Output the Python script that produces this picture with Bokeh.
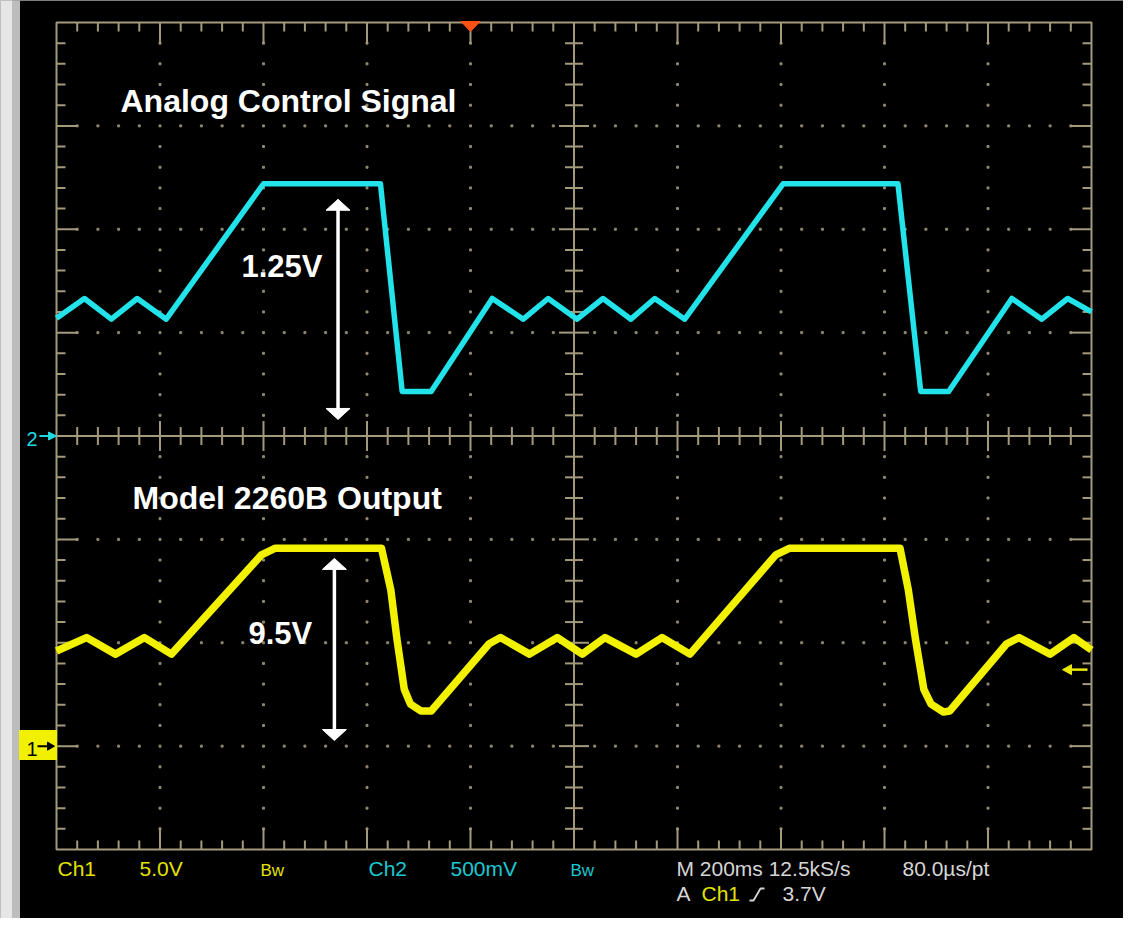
from bokeh.plotting import figure
from bokeh.models import Range1d, Label
from bokeh.embed import file_html
from bokeh.resources import INLINE

# ---------------- data ----------------
TIME_PER_DIV_MS = 200.0
CH1_VOLTS_PER_DIV = 5.0
CH2_VOLTS_PER_DIV = 0.5
CH1_GROUND_DIV = -3.0
CH2_GROUND_DIV = 0.0

# Ch2 : analog control signal (cyan)
ch2_time_ms = [0, 54, 106, 156, 212, 400, 626, 668, 724, 842, 902, 950,
               1006, 1056, 1110, 1156, 1214, 1404, 1626, 1670, 1724, 1846,
               1904, 1954, 2000]
ch2_volts = [0.57, 0.665, 0.565, 0.665, 0.565, 1.22, 1.22, 0.215, 0.215,
             0.665, 0.565, 0.665, 0.565, 0.665, 0.565, 0.665, 0.565, 1.22,
             1.22, 0.215, 0.215, 0.665, 0.565, 0.665, 0.60]

# Ch1 : Model 2260B output (yellow)
ch1_time_ms = [0, 58, 114, 170, 222, 396, 422, 628, 646, 658, 672, 684, 704,
               724, 836, 858, 914, 968, 1016, 1060, 1120, 1170, 1224, 1390,
               1416, 1630, 1646, 1660, 1676, 1690, 1714, 1726, 1836, 1860,
               1920, 1966, 2000]
ch1_volts = [4.6, 5.25, 4.45, 5.25, 4.45, 9.25, 9.57, 9.57, 7.56, 5.15, 2.75,
             2.03, 1.7, 1.7, 4.95, 5.25, 4.45, 5.25, 4.45, 5.25, 4.45, 5.25,
             4.45, 9.25, 9.57, 9.57, 7.56, 5.15, 2.75, 2.03, 1.65, 1.7, 4.95,
             5.25, 4.45, 5.25, 4.65]

# annotation arrows (time, bottom volts, top volts)
arrow_ch2 = (544, 0.08, 1.145)
arrow_ch1 = (537, 0.27, 9.08)
trigger_time_ms = 800
trigger_level_v = 3.7

titles = ["Analog Control Signal", "Model 2260B Output"]
amplitude_labels = ["1.25V", "9.5V"]
status_line1 = ["Ch1", "5.0V", "Bw", "Ch2", "500mV", "Bw",
                "M 200ms 12.5kS/s", "80.0\u00b5s/pt"]
status_line2 = ["A", "Ch1", "3.7V"]

# ---------------- layout ----------------
W, H = 1123, 918
GX0, GX1 = 56, 1091      # graticule left/right in figure px
GY0, GY1 = 22, 849       # graticule top/bottom in figure px
DX = (GX1 - GX0) / 10.0
DY = (GY1 - GY0) / 8.0

x0 = -GX0 / DX
x1 = 10 + (W - GX1) / DX
y1 = 4 + GY0 / DY
y0 = -4 - (H - GY1) / DY


def fx(px):
    return (px - 8 - GX0) / DX


def fy(py):
    return 4 - (py - 8 - GY0) / DY


p = figure(width=W, height=H, x_range=Range1d(x0, x1), y_range=Range1d(y0, y1),
           min_border=0, toolbar_location=None, output_backend="svg",
           x_axis_location=None, y_axis_location=None,
           background_fill_color="black", border_fill_color="black",
           outline_line_color=None)
p.grid.grid_line_color = None

p.extra_x_ranges = {"t": Range1d(x0 * TIME_PER_DIV_MS, x1 * TIME_PER_DIV_MS)}
p.extra_y_ranges = {
    "ch1": Range1d((y0 - CH1_GROUND_DIV) * CH1_VOLTS_PER_DIV,
                   (y1 - CH1_GROUND_DIV) * CH1_VOLTS_PER_DIV),
    "ch2": Range1d((y0 - CH2_GROUND_DIV) * CH2_VOLTS_PER_DIV,
                   (y1 - CH2_GROUND_DIV) * CH2_VOLTS_PER_DIV),
}

# grey bezel on the left
p.quad(left=[x0], right=[fx(20)], bottom=[y0], top=[y1], color="#e6e6e6")
p.quad(left=[fx(20)], right=[fx(27)], bottom=[y0], top=[y1], color="#bdbdbd")

# ---------------- graticule ----------------
GRAT = "#a39a7c"
DOT = "#8e8870"
pxx, pxy = 1 / DX, 1 / DY

dxs, dys = [], []
for c in [1, 2, 3, 4, 6, 7, 8, 9]:
    for k in range(1, 40):
        if k == 20:
            continue
        dxs.append(c)
        dys.append(-4 + k / 5)
for r in [-3, -2, -1, 1, 2, 3]:
    for k in range(1, 50):
        if k % 5 == 0:
            continue
        dxs.append(k / 5)
        dys.append(r)
p.rect(dxs, dys, width=2, height=2, width_units="screen", height_units="screen",
       color=DOT)

sx0, sy0, sx1, sy1 = [], [], [], []
for k in range(1, 50):
    x = k / 5
    L = 21 if k % 5 == 0 else 9
    sx0 += [x, x]; sy0 += [4, -4]; sx1 += [x, x]; sy1 += [4 - L * pxy, -4 + L * pxy]
    if k != 25:
        C = 15 if k % 5 == 0 else 9
        sx0.append(x); sy0.append(-C * pxy); sx1.append(x); sy1.append(C * pxy)
for k in range(1, 40):
    y = -4 + k / 5
    L = 21 if k % 5 == 0 else 9
    sx0 += [0, 10]; sy0 += [y, y]; sx1 += [L * pxx, 10 - L * pxx]; sy1 += [y, y]
    if k != 20:
        C = 15 if k % 5 == 0 else 9
        sx0.append(5 - C * pxx); sy0.append(y); sx1.append(5 + C * pxx); sy1.append(y)
sx0 += [5, 0]; sy0 += [-4, 0]; sx1 += [5, 10]; sy1 += [4, 0]
p.segment(sx0, sy0, sx1, sy1, line_color=GRAT, line_width=2)
p.rect([5], [0], width=[10], height=[8], fill_color=None, line_color=GRAT,
       line_width=2)

# ---------------- traces ----------------
p.line(ch2_time_ms, ch2_volts, x_range_name="t", y_range_name="ch2",
       line_color="#22e2ea", line_width=5.5, line_join="round")
p.line(ch1_time_ms, ch1_volts, x_range_name="t", y_range_name="ch1",
       line_color="#f2f200", line_width=7.5, line_join="round")


# ---------------- annotation arrows ----------------
def double_arrow(spec, yname, vpd):
    t, vb, vt = spec
    hl, hw = 11, 12
    dt = hw * TIME_PER_DIV_MS / DX
    dv = hl * vpd / DY
    p.segment([t], [vb + dv * 0.6], [t], [vt - dv * 0.6], line_color="white",
              line_width=3.5, x_range_name="t", y_range_name=yname)
    p.patches([[t, t - dt, t + dt], [t, t - dt, t + dt]],
              [[vt, vt - dv, vt - dv], [vb, vb + dv, vb + dv]],
              color="white", x_range_name="t", y_range_name=yname)


double_arrow(arrow_ch2, "ch2", CH2_VOLTS_PER_DIV)
double_arrow(arrow_ch1, "ch1", CH1_VOLTS_PER_DIV)

# trigger position marker (top) and trigger level marker (right)
tx = trigger_time_ms / TIME_PER_DIV_MS
p.patches([[tx - 9.5 * pxx, tx + 9.5 * pxx, tx]],
          [[fy(29), fy(29), fy(39)]], color="#ff5014")
lv = (trigger_level_v / CH1_VOLTS_PER_DIV) + CH1_GROUND_DIV
p.segment([fx(1078)], [lv], [fx(1095)], [lv], line_color="#e8e800", line_width=2.5)
p.patches([[fx(1070), fx(1079), fx(1079)]], [[lv, lv + 5 * pxy, lv - 5 * pxy]],
          color="#e8e800")

# channel ground markers
g2 = CH2_GROUND_DIV
p.segment([fx(47)], [g2], [fx(57)], [g2], line_color="#22d8e0", line_width=2)
p.patches([[fx(56), fx(64), fx(56)]], [[g2 + 4 * pxy, g2, g2 - 4 * pxy]],
          color="#22d8e0")
g1 = CH1_GROUND_DIV
p.quad(left=[fx(27)], right=[fx(64)], top=[fy(738)], bottom=[fy(767)],
       color="#f0f000")
p.segment([fx(45)], [g1], [fx(56)], [g1], line_color="black", line_width=2)
p.patches([[fx(55), fx(62), fx(55)]], [[g1 + 4 * pxy, g1, g1 - 4 * pxy]],
          color="black")

FONT = "Liberation Sans"


def lab(text, px, baseline_py, size, color, bold=False):
    # the renderer centres the caps on the anchor: lift anchor by half a cap
    py = baseline_py - 0.36 * size
    p.add_layout(Label(x=fx(px), y=fy(py), text=text,
                       text_font=FONT, text_font_size=f"{size}px",
                       text_font_style="bold" if bold else "normal",
                       text_color=color, text_baseline="alphabetic",
                       text_align="left"))


lab("2", 34, 454, 20, "#22d8e0")
lab("1", 34, 764, 20, "black")

# titles
lab(titles[0], 128, 120, 32, "white", True)
lab(titles[1], 140, 517, 32, "white", True)
lab(amplitude_labels[0], 249, 285, 31, "white", True)
lab(amplitude_labels[1], 256, 652, 31, "white", True)

# status lines
YEL, CYA, GRY = "#e2e200", "#1cc8d0", "#d6d6d6"
line1_x = [65, 147, 268, 376, 458, 578, 684, 910]
line1_c = [YEL, YEL, YEL, CYA, CYA, CYA, GRY, GRY]
for t, x, c in zip(status_line1, line1_x, line1_c):
    size = 17 if t == "Bw" else 21
    lab(t, x, 884, size, c)
line2_x = [684, 709, 790]
line2_c = [GRY, YEL, GRY]
for t, x, c in zip(status_line2, line2_x, line2_c):
    lab(t, x, 909, 21, c)
# rising-edge slope symbol
p.line([fx(757), fx(761), fx(768), fx(772)], [fy(908), fy(908), fy(896), fy(896)],
       line_color=GRY, line_width=1.8)

open("out.html", "w").write(file_html(p, INLINE))
